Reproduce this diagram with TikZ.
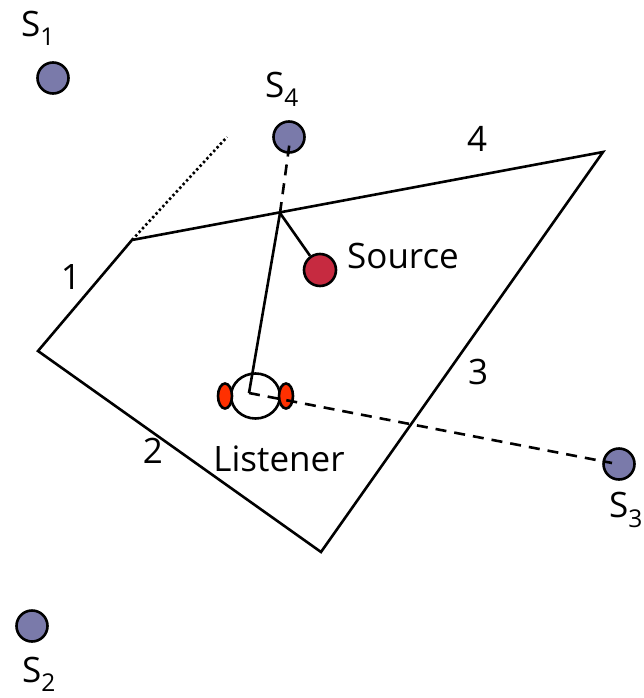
\documentclass[tikz,border=0pt]{standalone}
\usepackage{fontspec}
\usetikzlibrary{shapes.geometric}
\setmainfont{Open Sans}
\definecolor{sensorc}{RGB}{122,122,170}
\definecolor{srcc}{RGB}{198,42,64}
\definecolor{earc}{RGB}{255,48,0}
\tikzset{
  sensor/.style={circle,draw=black,line width=2.6pt,fill=sensorc,minimum size=31pt,inner sep=0pt},
  redball/.style={circle,draw=black,line width=2.6pt,fill=srcc,minimum size=32pt,inner sep=0pt},
  earshape/.style={ellipse,draw=black,line width=2.6pt,fill=earc,minimum width=14pt,minimum height=25pt,inner sep=0pt},
  headshape/.style={ellipse,draw=black,line width=2.6pt,fill=white,minimum width=49pt,minimum height=45pt,inner sep=0pt},
  lbl/.style={inner sep=0pt,font=\fontsize{35}{40}\selectfont,text=black},
  wall/.style={line width=2.6pt,black},
  dashline/.style={line width=2.6pt,black,dash pattern=on 11pt off 8pt},
}
\begin{document}
\begin{tikzpicture}[x=1pt,y=-1pt]
\useasboundingbox (0,0) rectangle (643,698);
\coordinate (A) at (132,240);
\coordinate (B) at (38,351);
\coordinate (C) at (321,552);
\coordinate (D) at (603,152);
\coordinate (R) at (280,213);
\coordinate (E) at (227,137);
\coordinate (hc) at (249,393);
\coordinate (s4c) at (290,140);
\coordinate (s3c) at (612,463);
\draw[wall,line join=miter] (A) -- (B) -- (C) -- (D) -- cycle;
\draw[line width=2.6pt,dash pattern=on 2.4pt off 2.6pt] (A) -- (E);
\node[sensor] (s1) at (53,78) {};
\node[sensor] (s2) at (32,626) {};
\node[sensor] (s3) at (619,464) {};
\node[sensor] (s4) at (289,137) {};
\node[redball] (src) at (320,270) {};
\node[headshape] (head) at (255.5,396) {};
\node[earshape] (el) at (225,396) {};
\node[earshape] (er) at (286,396) {};
\draw[wall] (R) -- (hc);
\draw[wall] (R) -- (src);
\draw[dashline] (R) -- (s4c);
\draw[dashline] (hc) -- (s3c);
\node[lbl] (ls1) at (38,28) {S\textsubscript{1}};
\node[lbl] (ls4) at (282,89) {S\textsubscript{4}};
\node[lbl] (ls3) at (626,510) {S\textsubscript{3}};
\node[lbl] (ls2) at (39,674) {S\textsubscript{2}};
\node[lbl] (n1) at (71,277) {1};
\node[lbl] (n2) at (153,451) {2};
\node[lbl] (n3) at (478,372) {3};
\node[lbl] (n4) at (477,139) {4};
\node[lbl] (tsrc) at (403,256) {Source};
\node[lbl] (tlis) at (279,459) {Listener};
\end{tikzpicture}
\end{document}
